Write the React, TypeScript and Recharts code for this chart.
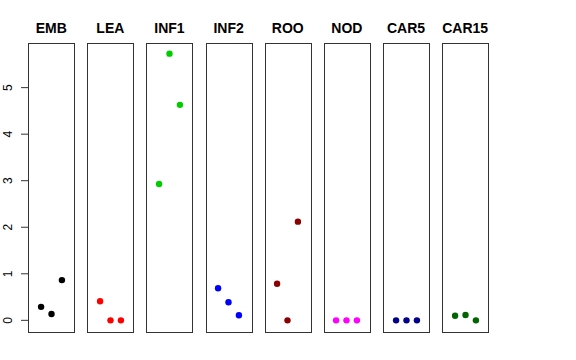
import React from "react";
import { ScatterChart, Scatter, XAxis, YAxis } from "recharts";

// tissue panels, three replicate points each
const tissues = ["EMB", "LEA", "INF1", "INF2", "ROO", "NOD", "CAR5", "CAR15"];
const replicates = [1, 2, 3];

const embValues = [0.29, 0.135, 0.865];
const leaValues = [0.41, 0, 0];
const inf1Values = [2.93, 5.73, 4.63];
const inf2Values = [0.69, 0.39, 0.11];
const rooValues = [0.785, 0, 2.12];
const nodValues = [0, 0, 0];
const car5Values = [0, 0, 0];
const car15Values = [0.1, 0.115, 0];

const tissueColors = ["#000000", "#FF0000", "#00CD00", "#0000FF", "#8B0000", "#FF00FF", "#00008B", "#006400"];
const yTicks = [0, 1, 2, 3, 4, 5];

const allValues = [embValues, leaValues, inf1Values, inf2Values, rooValues, nodValues, car5Values, car15Values];

const Y_DOMAIN: [number, number] = [-0.229, 5.959];
const X_DOMAIN: [number, number] = [-0.16, 4.16];

const PLOT_TOP = 43;
const PLOT_BOTTOM = 331;
const PLOT_W = 45;
const FIRST_LEFT = 28.7;
const STEP = 59.14;
const AXIS_W = 29;

function RotatedTick(props: any) {
    const { y, payload } = props;
    return (
        <text
            x={8}
            y={y}
            transform={`rotate(-90, 8, ${y})`}
            textAnchor="middle"
            dominantBaseline="central"
            fontSize={12}
            fontFamily="'Liberation Sans', Arial, sans-serif"
            fill="#000"
        >
            {payload.value}
        </text>
    );
}

function Panel({ index }: { index: number }) {
    const values = allValues[index];
    const data = replicates.map((r, i) => ({ x: r, y: values[i] }));
    const left = FIRST_LEFT + STEP * index;
    const showAxis = index === 0;

    return (
        <>
            <div
                style={{
                    position: "absolute",
                    left: left - 10,
                    width: PLOT_W + 20,
                    top: 18,
                    textAlign: "center",
                    fontFamily: "'Liberation Sans', Arial, sans-serif",
                    fontWeight: "bold",
                    fontSize: 14,
                    lineHeight: "20px",
                }}
            >
                {tissues[index]}
            </div>
            <div
                style={{
                    position: "absolute",
                    left: left - AXIS_W,
                    top: 0,
                }}
            >
                <ScatterChart
                    width={PLOT_W + AXIS_W}
                    height={360}
                    margin={{ top: PLOT_TOP, bottom: 360 - PLOT_BOTTOM, left: showAxis ? 0 : AXIS_W, right: 0 }}
                >
                    <XAxis type="number" dataKey="x" domain={X_DOMAIN} allowDataOverflow hide />
                    <YAxis
                        type="number"
                        dataKey="y"
                        domain={Y_DOMAIN}
                        allowDataOverflow
                        hide={!showAxis}
                        width={AXIS_W}
                        ticks={yTicks}
                        axisLine={false}
                        tickLine={{ stroke: "#333" }}
                        tickSize={8}
                        tick={<RotatedTick />}
                    />
                    <Scatter
                        data={data}
                        fill={tissueColors[index]}
                        shape={(p: any) => <circle cx={p.cx} cy={p.cy} r={3.2} fill={tissueColors[index]} />}
                        isAnimationActive={false}
                    />
                </ScatterChart>
            </div>
            <div
                style={{
                    position: "absolute",
                    left: left - 0.5,
                    top: PLOT_TOP - 0.5,
                    width: PLOT_W,
                    height: PLOT_BOTTOM - PLOT_TOP,
                    border: "1px solid #333",
                    pointerEvents: "none",
                }}
            />
        </>
    );
}

export default function App() {
    return (
        <div style={{ position: "absolute", left: 0, top: 0, width: 576, height: 360, background: "#fff" }}>
            {tissues.map((t, i) => (
                <Panel key={t} index={i} />
            ))}
        </div>
    );
}
